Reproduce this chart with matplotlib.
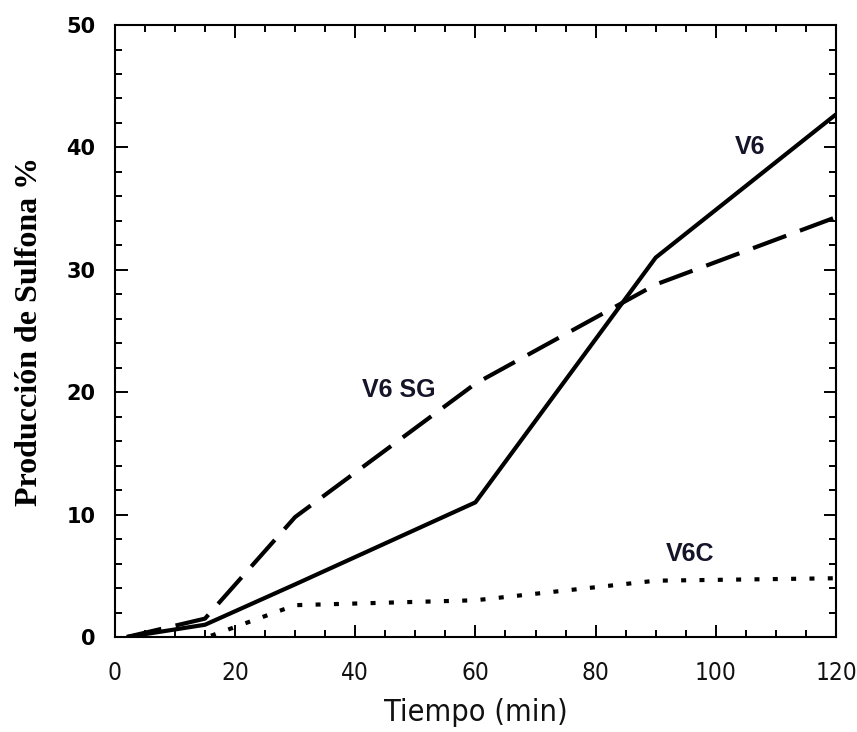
import numpy as np
import matplotlib
matplotlib.use("Agg")
import matplotlib.pyplot as plt
from matplotlib.ticker import MultipleLocator

# data
t_v6 = [2, 15, 30, 60, 90, 120]
v6 = [0.0, 1.0, 4.3, 11.0, 31.0, 42.7]

t_sg = [2, 15, 30, 60, 90, 120]
v6sg = [0.0, 1.5, 9.8, 20.7, 28.8, 34.3]

t_c = [16, 30, 60, 90, 120]
v6c = [0.1, 2.6, 3.0, 4.6, 4.8]

fig = plt.figure(figsize=(8.57, 7.32), dpi=100)
ax = fig.add_axes([0.134, 0.1298, 0.8415, 0.836])

ax.plot(t_v6, v6, color="black", lw=3.0, solid_capstyle="butt")
ax.plot(t_sg, v6sg, color="black", lw=3.0, dashes=(8.5, 3.5))
ax.plot(t_c, v6c, color="black", lw=3.0, dashes=(1.2, 3.2))

lab_font = dict(fontsize=18, fontweight="bold", color="#15152a",
                family=["Liberation Sans", "DejaVu Sans"])
ax.text(105.7, 40.0, "V6", ha="center", va="center", **lab_font)
ax.text(47.3, 20.2, "V6 SG", ha="center", va="center", **lab_font)
ax.text(95.7, 6.8, "V6C", ha="center", va="center", **lab_font)

ax.set_xlim(0, 120)
ax.set_ylim(0, 50)
ax.xaxis.set_major_locator(MultipleLocator(20))
ax.xaxis.set_minor_locator(MultipleLocator(5))
ax.yaxis.set_major_locator(MultipleLocator(10))
ax.yaxis.set_minor_locator(MultipleLocator(2))
ax.tick_params(which="both", direction="in", top=True, right=True, width=1.4)
ax.tick_params(which="major", length=9)
ax.tick_params(which="minor", length=5)
ax.tick_params(axis="x", pad=17)
ax.tick_params(axis="y", pad=14)
for s in ax.spines.values():
    s.set_linewidth(1.5)

for lb in ax.get_yticklabels():
    lb.set_fontsize(15)
    lb.set_fontweight("bold")
    lb.set_family("DejaVu Sans")
for lb in ax.get_xticklabels():
    lb.set_fontsize(17.5)
    lb.set_family("DejaVu Sans")
    lb.set_fontstretch("condensed")
    lb.set_color("#111111")

ax.set_xlabel("Tiempo (min)", fontsize=22, labelpad=10, color="#111111",
              family="DejaVu Sans", fontstretch="condensed")
ax.set_ylabel("Producción de Sulfona %", fontsize=23, fontweight="bold",
              labelpad=16, family=["Liberation Serif", "DejaVu Serif"])

fig.savefig("out.png", dpi=100)
